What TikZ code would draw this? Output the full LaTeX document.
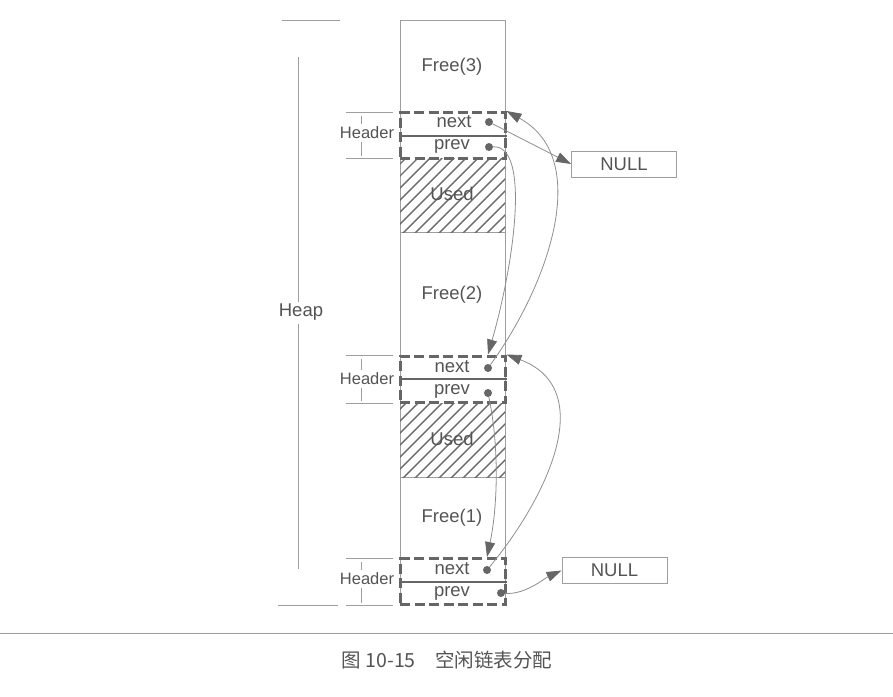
\documentclass[tikz,border=0pt]{standalone}
\usepackage{fontspec}
\setmainfont{Liberation Sans}
\newfontfamily\cjk{Noto Sans CJK SC}
\usetikzlibrary{arrows.meta}
\definecolor{ink}{gray}{0.33}
\definecolor{rulegray}{gray}{0.62}
\definecolor{dashgray}{gray}{0.40}

\begin{document}
\begin{tikzpicture}[x=1pt,y=-1pt,
  lbl/.style={text=ink, inner sep=0pt, font=\fontsize{18.5}{18.5}\selectfont},
  hdrlbl/.style={text=ink, inner sep=0pt, font=\fontsize{16.5}{16.5}\selectfont},
  cell/.style={draw=rulegray, line width=0.8pt},
  hdr/.style={draw=dashgray, line width=3pt, dash pattern=on 10pt off 4.5pt,
    minimum width=105pt, minimum height=46pt, inner sep=0pt},
  divider/.style={draw=dashgray, line width=2pt},
  dot/.style={circle, fill=dashgray, inner sep=0pt, minimum size=8pt},
  nullbox/.style={draw=rulegray, line width=0.9pt, minimum width=105pt,
    minimum height=26pt, inner sep=0pt, text=ink, font=\fontsize{18.5}{18.5}\selectfont},
  link/.style={draw=rulegray!90!black, line width=0.8pt,
    -{Triangle[length=15pt,width=10pt,color=dashgray]}},
  hatch/.style={draw=gray!85!black, line width=1.4pt}]
\useasboundingbox (0,0) rectangle (893,696);

% heap column
\draw[cell] (400,605) -- (400,20) -- (505,20) -- (505,605);
\draw[cell] (400,232) -- (505,232);
\draw[cell] (400,477) -- (505,477);

% used blocks
\begin{scope}
\clip (400,158) rectangle (505,232);
\foreach \k in {0,...,16} \draw[hatch] (300+12*\k,240) -- ++(90,-90);
\end{scope}
\begin{scope}
\clip (400,403) rectangle (505,477);
\foreach \k in {0,...,16} \draw[hatch] (300+12*\k,485) -- ++(90,-90);
\end{scope}

\node[lbl] (free3) at (452,67) {Free(3)};
\node[lbl] (free2) at (452,295) {Free(2)};
\node[lbl] (free1) at (452,518) {Free(1)};
\node[lbl] (used3) at (452,194) {Used};
\node[lbl] (used2) at (452,439) {Used};

% headers
\node[hdr] (h3) at (452.5,135.5) {};
\node[hdr] (h2) at (452.5,379) {};
\node[hdr] (h1) at (452.5,581.5) {};
\draw[divider] (h3.west) -- (h3.east);
\draw[divider] (h2.west) -- (h2.east);
\draw[divider] (h1.west) -- (h1.east);

\node[lbl] (next3) at (454,122) {next};
\node[lbl] (prev3) at (452,146) {prev};
\node[lbl] (next2) at (452,367) {next};
\node[lbl] (prev2) at (452,391) {prev};
\node[lbl] (next1) at (452,569) {next};
\node[lbl] (prev1) at (452,593) {prev};

\node[dot] (n3) at (489,122) {};
\node[dot] (p3) at (489,147) {};
\node[dot] (n2) at (488,368) {};
\node[dot] (p2) at (488,393) {};
\node[dot] (n1) at (487,570) {};
\node[dot] (p1) at (501,593) {};

% heap dimension
\node[lbl] (heap) at (301,312) {Heap};
\draw[cell] (282,20) -- (340,20);
\draw[cell] (278,605) -- (338,605);
\draw[cell] (298,57) -- (298,302);
\draw[cell] (298,324) -- (298,569);

% header dimensions
\node[hdrlbl] (hl3) at (367,133) {Header};
\node[hdrlbl] (hl2) at (367,379) {Header};
\node[hdrlbl] (hl1) at (367,579) {Header};
\foreach \t/\b/\m in {112/158/133, 355/403/379, 558/605/579} {
  \draw[cell] (346,\t) -- (393,\t);
  \draw[cell] (346,\b) -- (393,\b);
  \draw[cell, line width=0.6pt] (361,\t+4) -- (361,\m-9);
  \draw[cell, line width=0.6pt] (361,\m+9) -- (361,\b-2);
}

% null boxes
\node[nullbox] (null3) at (624,164) {NULL};
\node[nullbox] (null1) at (614.5,570.5) {NULL};

% links
\draw[link] (n3) -- (null3.west);
\draw[link] (n2) .. controls (545,290) and (595,160) .. (h3.north east);
\draw[link] (p3) .. controls (530,145) and (515,260) .. (n2 |- h2.north);
\draw[link] (n1) .. controls (545,500) and (600,390) .. (h2.north east);
\draw[link] (p2) .. controls (500,450) and (497,510) .. (n1 |- h1.north);
\draw[link] (p1) .. controls (525,595) and (545,578) .. (null1.west);

% caption
\draw[rulegray, line width=1pt] (0,633) -- (893,633);
\node[text=ink, font=\cjk\fontsize{19.5}{19.5}\selectfont] (caption) at (447,660)
  {图~10-15\hspace{1em}空闲链表分配};
\end{tikzpicture}
\end{document}
